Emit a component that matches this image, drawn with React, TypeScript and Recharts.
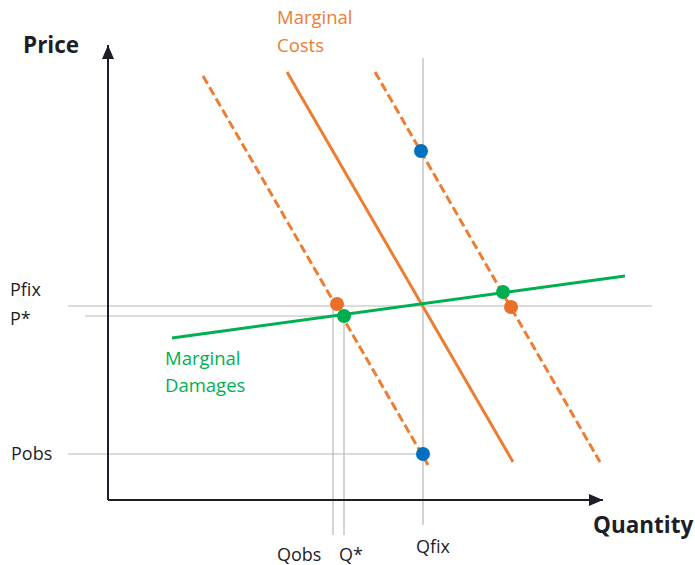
import React from 'react';
import { ComposedChart, Line, Scatter, XAxis, YAxis, ReferenceLine } from 'recharts';

// chart units: origin at the corner of the axes
const priceLevels = [
  { name: 'Pfix', p: 38.8 },
  { name: 'P*', p: 36.8 },
  { name: 'Pobs', p: 9.2 },
];
const quantityLevels = [
  { name: 'Qobs', q: 45 },
  { name: 'Q*', q: 47.2 },
  { name: 'Qfix', q: 63 },
];

const marginalCosts = [{ q: 35.8, p: 85.6 }, { q: 81, p: 7.6 }];
const marginalCostsLow = [{ q: 19, p: 84.8 }, { q: 64, p: 7 }];
const marginalCostsHigh = [{ q: 53.4, p: 85.6 }, { q: 98.4, p: 7.6 }];
const marginalDamages = [{ q: 12.8, p: 32.4 }, { q: 103.4, p: 44.8 }];

const bluePoints = [{ q: 62.6, p: 69.8 }, { q: 63, p: 9.2 }];
const orangePoints = [{ q: 45.8, p: 39.2 }, { q: 80.6, p: 38.6 }];
const greenPoints = [{ q: 47.2, p: 36.8 }, { q: 79, p: 41.6 }];

const yAxisLine = [{ q: 0, p: 0 }, { q: 0, p: 91 }];
const xAxisLine = [{ q: 0, p: 0 }, { q: 99, p: 0 }];

const ORANGE = '#ed7d31';
const GREEN = '#00b050';
const BLUE = '#0070c0';
const GUIDE = '#b8b8b8';
const INK = '#1e1e28';
const FONT = '"Open Sans", "Noto Sans", sans-serif';

const [pFix, pStar, pObs] = priceLevels.map((d) => d.p);
const [qObs, qStar, qFix] = quantityLevels.map((d) => d.q);

const notes = [
  { id: 'price', text: 'Price', q: 0, p: yAxisLine[1].p },
  { id: 'quantity', text: 'Quantity', q: xAxisLine[1].q, p: 0 },
  { id: 'mc1', text: 'Marginal', q: marginalCosts[0].q, p: marginalCosts[0].p },
  { id: 'mc2', text: 'Costs', q: marginalCosts[0].q, p: marginalCosts[0].p },
  { id: 'md1', text: 'Marginal', q: marginalDamages[0].q, p: marginalDamages[0].p },
  { id: 'md2', text: 'Damages', q: marginalDamages[0].q, p: marginalDamages[0].p },
  ...priceLevels.map((d) => ({ id: d.name, text: d.name, q: 0, p: d.p })),
  ...quantityLevels.map((d) => ({ id: d.name, text: d.name, q: d.q, p: 0 })),
];

const noteStyle: Record<string, { dx: number; dy: number; color: string; size: number; bold?: boolean }> = {
  price: { dx: -85, dy: 8, color: INK, size: 22.5, bold: true },
  quantity: { dx: -10, dy: 33, color: INK, size: 22.5, bold: true },
  mc1: { dx: -10, dy: -48, color: ORANGE, size: 18.5 },
  mc2: { dx: -10, dy: -20, color: ORANGE, size: 18.5 },
  md1: { dx: -7, dy: 27, color: GREEN, size: 18.5 },
  md2: { dx: -7, dy: 54, color: GREEN, size: 18.5 },
  Pfix: { dx: -98, dy: -10, color: INK, size: 18 },
  'P*': { dx: -98, dy: 9, color: INK, size: 18 },
  Pobs: { dx: -97, dy: 6, color: INK, size: 18 },
  Qobs: { dx: -56, dy: 61, color: INK, size: 18 },
  'Q*': { dx: -5, dy: 61, color: INK, size: 18 },
  Qfix: { dx: -7, dy: 53, color: INK, size: 18 },
};

const renderNote = (props: any) => {
  const { cx, cy, payload } = props;
  const s = noteStyle[payload.id];
  return (
    <text
      x={cx + s.dx}
      y={cy + s.dy}
      fill={s.color}
      fontSize={s.size}
      fontWeight={s.bold ? 700 : 400}
      fontFamily={FONT}
    >
      {payload.text}
    </text>
  );
};

const dotShape = (color: string) => (props: any) => (
  <circle cx={props.cx} cy={props.cy} r={7} fill={color} />
);

const arrowHead = (dir: 'up' | 'right') => (props: any) => {
  const { cx, cy, index } = props;
  if (index !== 1) return <g key={`a-${dir}-${index}`} />;
  const pts =
    dir === 'up'
      ? `${cx},${cy} ${cx - 6},${cy + 14} ${cx + 6},${cy + 14}`
      : `${cx},${cy} ${cx - 14},${cy - 6} ${cx - 14},${cy + 6}`;
  return <polygon key={`a-${dir}-${index}`} points={pts} fill={INK} />;
};

export default function App() {
  return (
    <div style={{ position: 'absolute', left: 0, top: 0, width: 695, height: 565, background: '#fff' }}>
      <ComposedChart width={695} height={565} margin={{ top: 0, right: 0, bottom: 0, left: 0 }}>
        <XAxis type="number" dataKey="q" domain={[-21.6, 117.4]} allowDataOverflow hide />
        <YAxis type="number" dataKey="p" domain={[-13, 100]} allowDataOverflow hide />

        {/* guide lines */}
        <ReferenceLine segment={[{ x: -8, y: pFix }, { x: 108.8, y: pFix }]} stroke={GUIDE} strokeWidth={1.2} />
        <ReferenceLine segment={[{ x: -4.6, y: pStar }, { x: qStar, y: pStar }]} stroke={GUIDE} strokeWidth={1.2} />
        <ReferenceLine segment={[{ x: -8, y: pObs }, { x: qFix, y: pObs }]} stroke={GUIDE} strokeWidth={1.2} />
        <ReferenceLine segment={[{ x: qFix, y: 88.4 }, { x: qFix, y: -5 }]} stroke={GUIDE} strokeWidth={1.2} />
        <ReferenceLine segment={[{ x: qObs, y: pFix }, { x: qObs, y: -7 }]} stroke={GUIDE} strokeWidth={1.2} />
        <ReferenceLine segment={[{ x: qStar, y: pStar }, { x: qStar, y: -7 }]} stroke={GUIDE} strokeWidth={1.2} />

        {/* axes */}
        <Line data={yAxisLine} dataKey="p" stroke={INK} strokeWidth={2} dot={arrowHead('up')} activeDot={false} isAnimationActive={false} />
        <Line data={xAxisLine} dataKey="p" stroke={INK} strokeWidth={2} dot={arrowHead('right')} activeDot={false} isAnimationActive={false} />

        {/* curves */}
        <Line data={marginalCostsLow} dataKey="p" stroke={ORANGE} strokeWidth={3} strokeDasharray="9 4" dot={false} activeDot={false} isAnimationActive={false} />
        <Line data={marginalCostsHigh} dataKey="p" stroke={ORANGE} strokeWidth={3} strokeDasharray="9 4" dot={false} activeDot={false} isAnimationActive={false} />
        <Line data={marginalCosts} dataKey="p" stroke={ORANGE} strokeWidth={3} dot={false} activeDot={false} isAnimationActive={false} />
        <Line data={marginalDamages} dataKey="p" stroke={GREEN} strokeWidth={3} dot={false} activeDot={false} isAnimationActive={false} />

        {/* points */}
        <Scatter data={bluePoints} dataKey="p" shape={dotShape(BLUE)} isAnimationActive={false} />
        <Scatter data={orangePoints} dataKey="p" shape={dotShape('#e8702a')} isAnimationActive={false} />
        <Scatter data={greenPoints} dataKey="p" shape={dotShape('#00ad4f')} isAnimationActive={false} />

        {/* text */}
        <Scatter data={notes} dataKey="p" shape={renderNote} isAnimationActive={false} />
      </ComposedChart>
    </div>
  );
}
